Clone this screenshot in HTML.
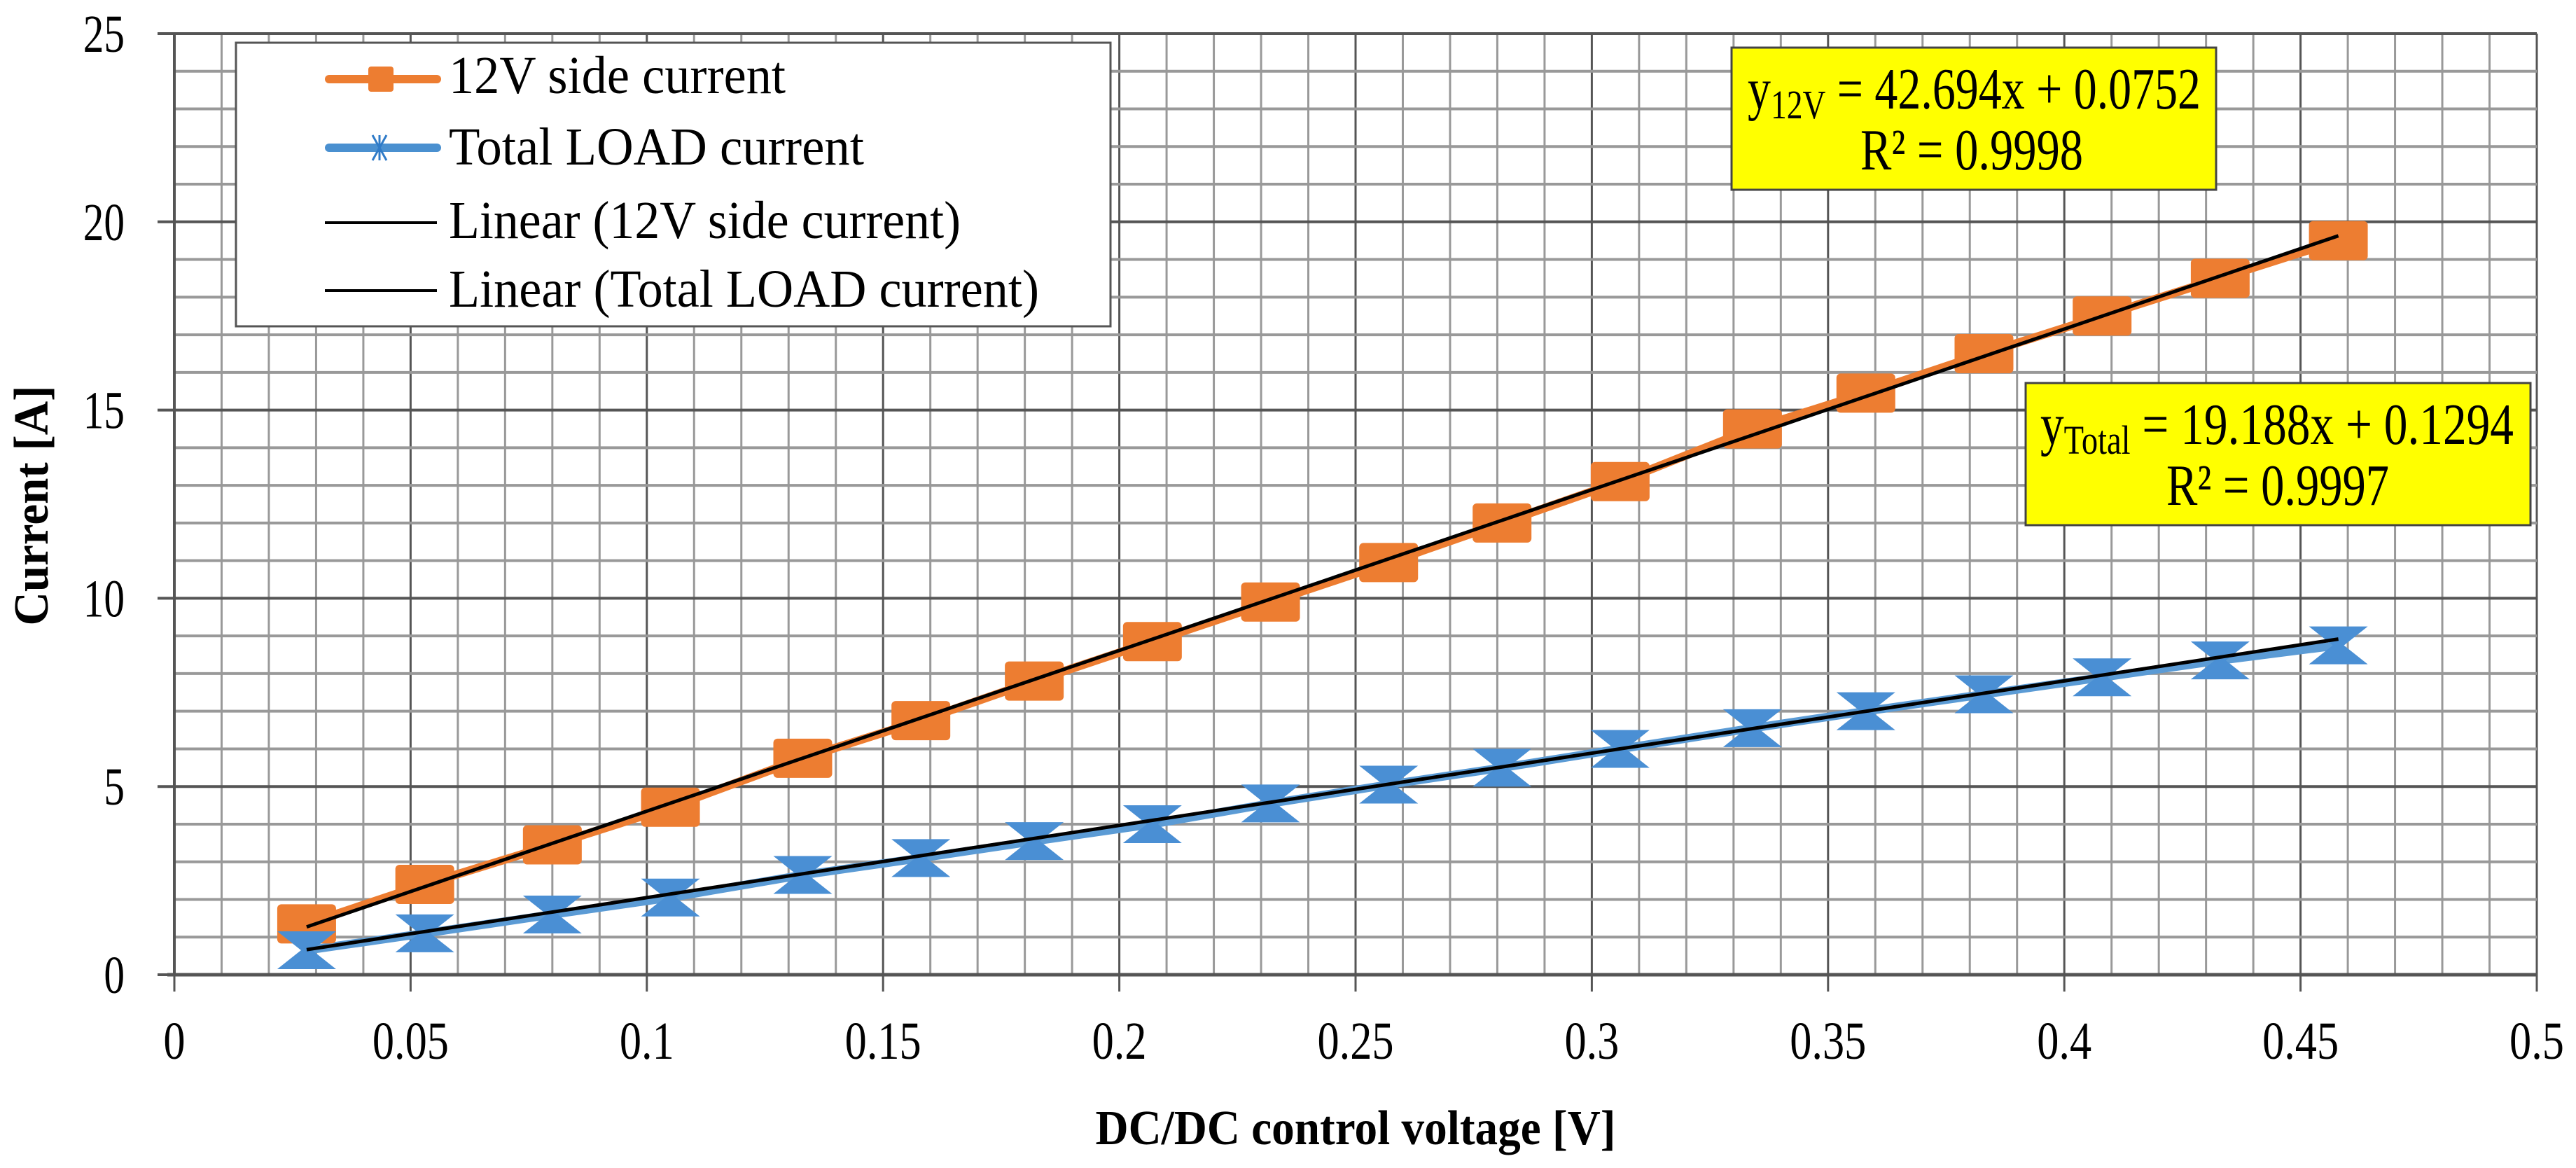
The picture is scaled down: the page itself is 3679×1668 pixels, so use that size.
<!DOCTYPE html>
<html><head><meta charset="utf-8"><style>
html,body{margin:0;padding:0;background:#fff;}
svg{display:block;font-family:"Liberation Serif",serif;}
</style></head><body>
<svg id="chart" width="3679" height="1668" viewBox="0 0 3679 1668" xmlns="http://www.w3.org/2000/svg">
<g id="grid"></g>
<g id="axes"></g>
<g id="series"></g>
<text x="1936" y="1634" font-size="70" font-weight="bold" text-anchor="middle" textLength="743" lengthAdjust="spacingAndGlyphs">DC/DC control voltage [V]</text>
<text transform="translate(68,722) rotate(-90)" font-size="70" font-weight="bold" text-anchor="middle" textLength="343" lengthAdjust="spacingAndGlyphs">Current [A]</text>
<g>
<rect x="337" y="61" width="1249" height="405" fill="#fff" stroke="#555" stroke-width="3"/>
<g>
<line x1="470" y1="113" x2="624" y2="113" stroke="#ED7D31" stroke-width="12" stroke-linecap="round"/>
<rect x="526" y="95" width="36" height="36" rx="4" fill="#ED7D31"/>
<text x="641" y="133" font-size="76" textLength="481" lengthAdjust="spacingAndGlyphs">12V side current</text></g>
<g>
<line x1="470" y1="211" x2="624" y2="211" stroke="#4A90D0" stroke-width="12" stroke-linecap="round"/>
<path d="M532 193 L552 229 M552 193 L532 229 M542 193 L542 229" stroke="#2F7BC8" stroke-width="3"/>
<text x="641" y="235" font-size="76" textLength="593" lengthAdjust="spacingAndGlyphs">Total LOAD current</text></g>
<g>
<line x1="464" y1="318" x2="624" y2="318" stroke="#000" stroke-width="4"/>
<text x="641" y="340" font-size="76" textLength="731" lengthAdjust="spacingAndGlyphs">Linear (12V side current)</text></g>
<g>
<line x1="464" y1="415" x2="624" y2="415" stroke="#000" stroke-width="4"/>
<text x="641" y="438" font-size="76" textLength="843" lengthAdjust="spacingAndGlyphs">Linear (Total LOAD current)</text></g>
</g>
<g>
<rect x="2473" y="68" width="692" height="203" fill="#FFFF00" stroke="#444" stroke-width="3"/>
<text x="2496" y="155" font-size="84" textLength="647" lengthAdjust="spacingAndGlyphs">y<tspan font-size="58" dy="14">12V</tspan><tspan dy="-14"> = 42.694x + 0.0752</tspan></text>
<text x="2657" y="242" font-size="84" textLength="318" lengthAdjust="spacingAndGlyphs">R² = 0.9998</text>
</g>
<g>
<rect x="2893" y="547" width="721" height="203" fill="#FFFF00" stroke="#444" stroke-width="3"/>
<text x="2914" y="634" font-size="84" textLength="676" lengthAdjust="spacingAndGlyphs">y<tspan font-size="58" dy="14">Total</tspan><tspan dy="-14"> = 19.188x + 0.1294</tspan></text>
<text x="3094" y="721" font-size="84" textLength="318" lengthAdjust="spacingAndGlyphs">R² = 0.9997</text>
</g>
</svg>
<script>
const xVals=[0.028,0.053,0.08,0.105,0.133,0.158,0.182,0.207,0.232,0.257,0.281,0.306,0.334,0.358,0.383,0.408,0.433,0.458];
const side12V=[1.35,2.4,3.45,4.45,5.75,6.75,7.8,8.85,9.9,10.95,12.0,13.1,14.5,15.45,16.5,17.5,18.5,19.5];
const totalLoad=[0.65,1.1,1.6,2.05,2.65,3.1,3.55,4.0,4.55,5.05,5.5,6.0,6.55,7.0,7.45,7.9,8.35,8.75];
const fit12V=[42.694,0.0752];
const fitTotal=[19.188,0.1294];
const xTicks=["0","0.05","0.1","0.15","0.2","0.25","0.3","0.35","0.4","0.45","0.5"];
const yTicks=["0","5","10","15","20","25"];
const X0=249,X1=3623,Y0=1392,Y1=48;
const sx=v=>X0+(v/0.5)*(X1-X0);
const sy=v=>Y0-(v/25)*(Y0-Y1);
const NS="http://www.w3.org/2000/svg";
function mk(tag,parent,attrs){const e=document.createElementNS(NS,tag);for(const k in attrs)e.setAttribute(k,attrs[k]);parent.appendChild(e);return e;}
const grid=document.getElementById('grid'),axes=document.getElementById('axes'),series=document.getElementById('series');
for(let i=1;i<=50;i++){const v=i*0.01;const major=i%5===0;
 const l=mk('line',grid,{x1:sx(v),x2:sx(v),y1:Y1,y2:Y0,stroke:major?'#555':'#999','stroke-width':3});
 
 }
for(let i=1;i<=25;i++){const major=i%5===0;
 const l=mk('line',grid,{x1:X0,x2:X1,y1:sy(i),y2:sy(i),stroke:major?'#555':'#999','stroke-width':4});
 
 }
mk('line',axes,{x1:X0,x2:X0,y1:Y1,y2:Y0,stroke:'#555','stroke-width':4});
mk('line',axes,{x1:X0-10,x2:X1,y1:Y0,y2:Y0,stroke:'#555','stroke-width':5});
xTicks.forEach((t,i)=>{const x=sx(i*0.05);
 mk('line',axes,{x1:x,x2:x,y1:Y0,y2:Y0+24,stroke:'#555','stroke-width':3});
 const tx=mk('text',axes,{x:x,y:1512,'font-size':76,'text-anchor':'middle',transform:`translate(${x},0) scale(0.82,1) translate(${-x},0)`});tx.textContent=t;
 
 });
yTicks.forEach((t,i)=>{const y=sy(i*5);
 mk('line',axes,{x1:X0-24,x2:X0,y1:y,y2:y,stroke:'#555','stroke-width':4});
 const tx=mk('text',axes,{x:178,y:y+26,'font-size':76,'text-anchor':'end',transform:`translate(178,0) scale(0.78,1) translate(-178,0)`});tx.textContent=t;
 
 });
const p1=mk('polyline',series,{points:xVals.map((x,i)=>sx(x)+','+sy(side12V[i])).join(' '),fill:'none',stroke:'#ED7D31','stroke-width':12,'stroke-linejoin':'round'});


const p2=mk('polyline',series,{points:xVals.map((x,i)=>sx(x)+','+sy(totalLoad[i])).join(' '),fill:'none',stroke:'#5B9BD5','stroke-width':12,'stroke-linejoin':'round'});


xVals.forEach((x,i)=>{
 const r=mk('rect',series,{x:sx(x)-42,y:sy(side12V[i])-28,width:84,height:56,rx:6,fill:'#ED7D31'});
 
 
 const cx=sx(x),cy=sy(totalLoad[i]);
 const b=mk('path',series,{d:`M${cx-42} ${cy-27} L${cx+42} ${cy-27} L${cx+8} ${cy} L${cx+42} ${cy+27} L${cx-42} ${cy+27} L${cx-8} ${cy} Z`,fill:'#4A8FD4'});
 
 
});
const xa=xVals[0],xb=xVals[xVals.length-1];
[[fit12V,'trendline-12v'],[fitTotal,'trendline-total']].forEach(([f,n])=>{
 const l=mk('line',series,{x1:sx(xa),y1:sy(f[0]*xa+f[1]),x2:sx(xb),y2:sy(f[0]*xb+f[1]),stroke:'#000','stroke-width':5});
 
 
});
</script>
</body></html>
